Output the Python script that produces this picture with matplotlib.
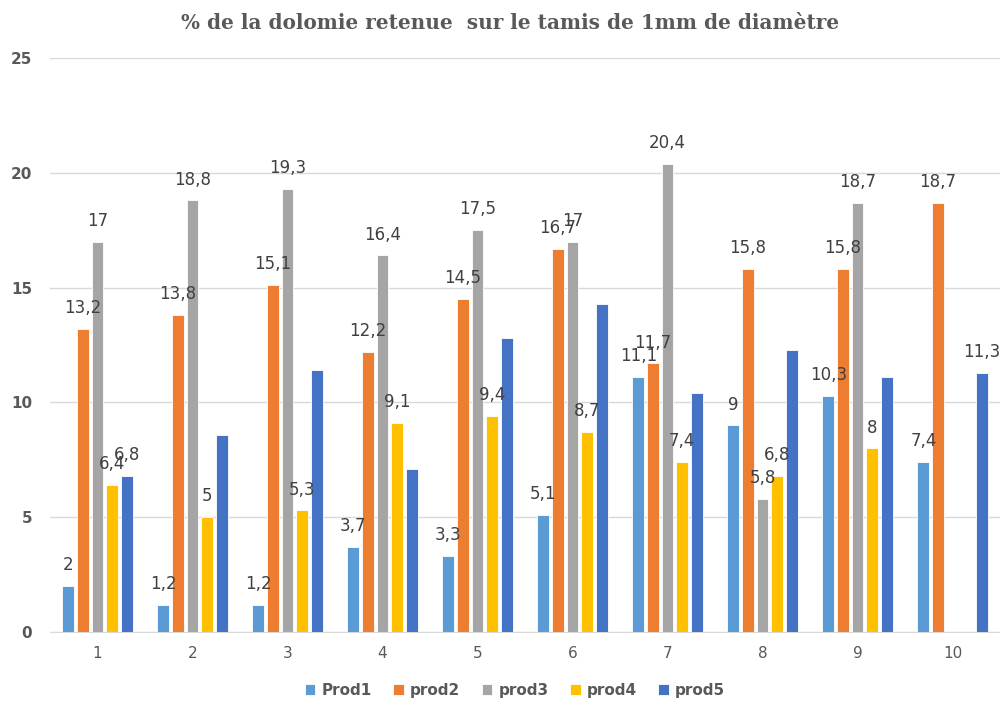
import numpy as np
import matplotlib
matplotlib.use("Agg")
import matplotlib.pyplot as plt

groups = ["1", "2", "3", "4", "5", "6", "7", "8", "9", "10"]
series_names = ["Prod1", "prod2", "prod3", "prod4", "prod5"]
prod1 = [2, 1.2, 1.2, 3.7, 3.3, 5.1, 11.1, 9, 10.3, 7.4]
prod2 = [13.2, 13.8, 15.1, 12.2, 14.5, 16.7, 11.7, 15.8, 15.8, 18.7]
prod3 = [17, 18.8, 19.3, 16.4, 17.5, 17, 20.4, 5.8, 18.7, None]
prod4 = [6.4, 5, 5.3, 9.1, 9.4, 8.7, 7.4, 6.8, 8, None]
prod5 = [6.8, 8.6, 11.4, 7.1, 12.8, 14.3, 10.4, 12.3, 11.1, 11.3]
colors = ["#5B9BD5", "#ED7D31", "#A5A5A5", "#FFC000", "#4472C4"]
# which bars carry a value label, per series
labelled = [
    [True] * 10,
    [True] * 10,
    [True] * 9 + [False],
    [True] * 9 + [False],
    [True] + [False] * 8 + [True],
]

values = [prod1, prod2, prod3, prod4, prod5]

fig = plt.figure(figsize=(10, 7.07), dpi=100)
ax = fig.add_axes([0.05, 0.106, 0.95, 0.812])

x = np.arange(len(groups))
step = 0.153
width = 0.125

def fmt(v):
    s = f"{v:g}"
    return s.replace(".", ",")

for i, (name, vals, col) in enumerate(zip(series_names, values, colors)):
    offs = (i - 2) * step
    xs = [xi + offs for xi, v in zip(x, vals) if v is not None]
    ys = [v for v in vals if v is not None]
    ax.bar(xs, ys, width=width, color=col, edgecolor="white", linewidth=0.6,
           label=name, zorder=3)

# value labels drawn after all bars so they sit on top
for i, vals in enumerate(values):
    offs = (i - 2) * step
    for xi, v, show in zip(x, vals, labelled[i]):
        if v is None or not show:
            continue
        ax.annotate(fmt(v), (xi + offs, v), xytext=(0, 15), textcoords="offset points",
                    ha="center", va="center", fontsize=12, color="#404040",
                    family="DejaVu Sans", zorder=6)

ax.set_xlim(-0.5, len(groups) - 0.5)
ax.set_ylim(0, 25)
ax.set_yticks([0, 5, 10, 15, 20, 25])
ax.set_xticks(x)
ax.set_xticklabels(groups)
ax.grid(axis="y", color="#D9D9D9", linewidth=1, zorder=0)
for s in ["top", "right", "left"]:
    ax.spines[s].set_visible(False)
ax.spines["bottom"].set_color("#D9D9D9")
ax.tick_params(axis="both", length=0, colors="#595959", labelsize=11)
ax.tick_params(axis="y", pad=13)
ax.tick_params(axis="x", pad=10)
for t in ax.get_yticklabels():
    t.set_fontweight("bold")

fig.text(0.51, 0.968, "% de la dolomie retenue  sur le tamis de 1mm de diamètre",
         ha="center", va="center", fontsize=14.4, fontweight="bold",
         color="#595959", family="DejaVu Serif")

leg = fig.legend(loc="center", bbox_to_anchor=(0.515, 0.024), ncol=5, frameon=False,
                 fontsize=11, handlelength=0.7, handleheight=0.7, columnspacing=1.4,
                 handletextpad=0.4)
for t in leg.get_texts():
    t.set_color("#595959")
    t.set_fontweight("bold")

fig.savefig("out.png", dpi=100)
